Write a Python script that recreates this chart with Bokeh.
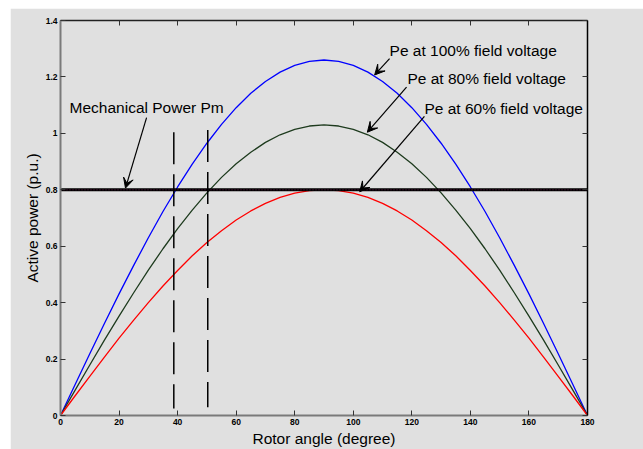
from bokeh.plotting import figure
from bokeh.models import LinearAxis, FixedTicker, Arrow, VeeHead, Label, Range1d
from bokeh.embed import file_html
from bokeh.resources import INLINE

# ---- data ----
angle_deg = [0, 5, 10, 15, 20, 25, 30, 35, 40, 45, 50, 55, 60, 65, 70, 75, 80, 85, 90,
             95, 100, 105, 110, 115, 120, 125, 130, 135, 140, 145, 150, 155, 160, 165, 170, 175, 180]
pe_100 = [0.000, 0.110, 0.219, 0.326, 0.431, 0.532, 0.630, 0.723, 0.810, 0.891, 0.965, 1.032, 1.091,
          1.142, 1.184, 1.217, 1.241, 1.255, 1.260, 1.255, 1.241, 1.217, 1.184, 1.142, 1.091, 1.032,
          0.965, 0.891, 0.810, 0.723, 0.630, 0.532, 0.431, 0.326, 0.219, 0.110, 0.000]
pe_80 = [0.000, 0.090, 0.179, 0.267, 0.352, 0.435, 0.515, 0.591, 0.662, 0.728, 0.789, 0.844, 0.892,
         0.933, 0.968, 0.995, 1.014, 1.026, 1.030, 1.026, 1.014, 0.995, 0.968, 0.933, 0.892, 0.844,
         0.789, 0.728, 0.662, 0.591, 0.515, 0.435, 0.352, 0.267, 0.179, 0.090, 0.000]
pe_60 = [0.000, 0.070, 0.139, 0.207, 0.274, 0.338, 0.400, 0.459, 0.514, 0.566, 0.613, 0.655, 0.693,
         0.725, 0.752, 0.773, 0.788, 0.797, 0.800, 0.797, 0.788, 0.773, 0.752, 0.725, 0.693, 0.655,
         0.613, 0.566, 0.514, 0.459, 0.400, 0.338, 0.274, 0.207, 0.139, 0.070, 0.000]
pm_angle = [0, 180]
pm_value = [0.8, 0.8]
delta1_x = [38.7, 38.7]
delta1_y = [1.004, 0.025]
delta2_x = [50.3, 50.3]
delta2_y = [1.012, 0.029]

x_ticks = [0, 20, 40, 60, 80, 100, 120, 140, 160, 180]
y_ticks = [0, 0.2, 0.4, 0.6, 0.8, 1.0, 1.2, 1.4]
y_tick_labels = ["0", "0.2", "0.4", "0.6", "0.8", "1", "1.2", "1.4"]

label_pm = "Mechanical Power Pm"
label_100 = "Pe at 100% field voltage"
label_80 = "Pe at 80% field voltage"
label_60 = "Pe at 60% field voltage"

BG = "#e0e0e0"
FONT = "Liberation Sans"

p = figure(width=633, height=441, output_backend="svg", toolbar_location=None,
           x_range=Range1d(0, 180), y_range=Range1d(0, 1.4),
           background_fill_color=BG, border_fill_color=BG,
           min_border_left=50, min_border_right=56, min_border_top=12, min_border_bottom=34,
           margin=(8, 0, 0, 10))
p.outline_line_color = None
p.grid.visible = False

for ax in (p.xaxis[0], p.yaxis[0]):
    ax.axis_line_color = "#7a7a7a"
    ax.axis_line_width = 2
    ax.major_tick_line_color = "#333333"
    ax.major_tick_in = 5
    ax.major_tick_out = 0
    ax.minor_tick_line_color = None
    ax.major_label_text_font = FONT
    ax.major_label_text_font_size = "8.5px"
    ax.major_label_text_font_style = "bold"
    ax.major_label_text_color = "#000000"
    ax.major_label_standoff = 3
    ax.axis_label_text_font = FONT
    ax.axis_label_text_font_size = "15.5px"
    ax.axis_label_text_font_style = "normal"
    ax.axis_label_text_color = "#000000"
    ax.axis_label_standoff = 2

p.xaxis[0].ticker = FixedTicker(ticks=x_ticks)
p.yaxis[0].ticker = FixedTicker(ticks=y_ticks)
p.yaxis[0].major_label_overrides = {t: s for t, s in zip(y_ticks, y_tick_labels)}
p.xaxis[0].axis_label = "Rotor angle (degree)"
p.yaxis[0].axis_label = "Active power (p.u.)"

top_axis = LinearAxis(ticker=FixedTicker(ticks=x_ticks), axis_line_color="#222222", axis_line_width=1.5,
                      major_tick_in=5, major_tick_out=0, minor_tick_line_color=None,
                      major_tick_line_color="#333333", major_label_text_color=None,
                      major_label_standoff=0)
right_axis = LinearAxis(ticker=FixedTicker(ticks=y_ticks), axis_line_color="#000000", axis_line_width=1.5,
                        major_tick_in=5, major_tick_out=0, minor_tick_line_color=None,
                        major_tick_line_color="#333333", major_label_text_color=None,
                        major_label_standoff=0)
p.add_layout(top_axis, "above")
p.add_layout(right_axis, "right")

# curves
p.line(angle_deg, pe_100, line_color="#0000ff", line_width=1.3)
p.line(angle_deg, pe_80, line_color="#1e3b1e", line_width=1.3)
p.line(angle_deg, pe_60, line_color="#ff0000", line_width=1.3)

# mechanical power line
p.line(pm_angle, pm_value, line_color="#000000", line_width=3)
p.line(pm_angle, pm_value, line_color="#8a2060", line_width=1, line_dash="1 2", line_alpha=0.7)

# dashed verticals
p.line(delta1_x, delta1_y, line_color="#000000", line_width=1.5, line_dash="32 10")
p.line(delta2_x, delta2_y, line_color="#000000", line_width=1.5, line_dash="32 10")

# annotations
def add_arrow(xs, ys, xe, ye):
    p.add_layout(Arrow(end=VeeHead(size=10, fill_color="#000000", line_color="#000000", line_width=1),
                       x_start=xs, y_start=ys, x_end=xe, y_end=ye,
                       line_color="#000000", line_width=1.2))

add_arrow(29.4, 1.056, 22.2, 0.806)
add_arrow(112.4, 1.265, 107.3, 1.207)
add_arrow(118.2, 1.164, 104.8, 1.004)
add_arrow(124.3, 1.060, 102.2, 0.793)

for tx, ty, txt in [(3.1, 1.0916, label_pm), (112.4, 1.2935, label_100),
                    (118.5, 1.194, label_80), (124.3, 1.088, label_60)]:
    p.add_layout(Label(x=tx, y=ty, text=txt, text_font=FONT, text_font_size="15.5px",
                       text_color="#000000", text_align="left", text_baseline="middle"))

open("out.html", "w").write(file_html(p, INLINE))
